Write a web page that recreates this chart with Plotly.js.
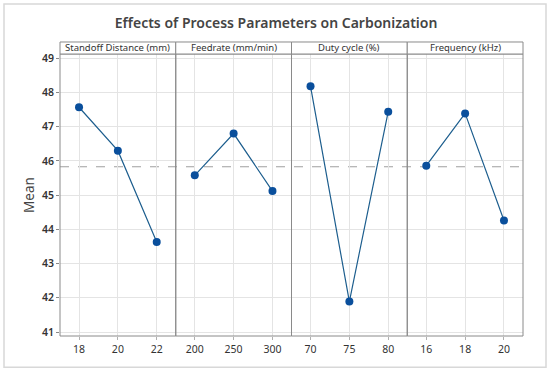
<!DOCTYPE html>
<html>
<head>
<meta charset="utf-8">
<script src="https://cdn.plot.ly/plotly-3.0.1.min.js"></script>
<style>html,body{margin:0;padding:0;background:#fff;}#chart{width:550px;height:371px;}</style>
</head>
<body>
<div id="chart"></div>
<script>
// ---- data ----
const factorNames = ["Standoff Distance (mm)", "Feedrate (mm/min)", "Duty cycle (%)", "Frequency (kHz)"];
const standoffLevels = ["18", "20", "22"];
const standoffMeans = [47.57, 46.30, 43.63];
const feedrateLevels = ["200", "250", "300"];
const feedrateMeans = [45.58, 46.80, 45.12];
const dutyLevels = ["70", "75", "80"];
const dutyMeans = [48.18, 41.89, 47.44];
const freqLevels = ["16", "18", "20"];
const freqMeans = [45.86, 47.39, 44.26];
const grandMean = 45.83;
const yTicks = [41, 42, 43, 44, 45, 46, 47, 48, 49];

const levelSets = [standoffLevels, feedrateLevels, dutyLevels, freqLevels];
const meanSets = [standoffMeans, feedrateMeans, dutyMeans, freqMeans];

const FONT = "Noto Sans, Open Sans, sans-serif";
const frameColor = "#8a8a8a";
const gridColor = "#e4e4e4";

const traces = [];
const layout = {
  width: 550, height: 371,
  margin: {l: 60, r: 27, t: 54, b: 35.3},
  paper_bgcolor: "#fff", plot_bgcolor: "#fff",
  showlegend: false,
  font: {family: FONT, color: "#333"},
  title: {text: "Effects of Process Parameters on Carbonization",
          font: {family: FONT, size: 14, color: "#444", weight: 600},
          x: 0.502, xref: "container", xanchor: "center", y: 0.95, yref: "container", yanchor: "top"},
  shapes: [], annotations: []
};

const stripH = 12 / 281.7;

for (let i = 0; i < 4; i++) {
  const xa = i === 0 ? "x" : "x" + (i + 1);
  const ya = i === 0 ? "y" : "y" + (i + 1);
  traces.push({
    type: "scatter", mode: "lines+markers",
    x: levelSets[i], y: meanSets[i],
    xaxis: xa, yaxis: ya,
    line: {color: "#1d5e8e", width: 1.2},
    marker: {color: "#0a4f9c", size: 8},
    hoverinfo: "x+y"
  });
  const axName = i === 0 ? "xaxis" : "xaxis" + (i + 1);
  const yName = i === 0 ? "yaxis" : "yaxis" + (i + 1);
  layout[axName] = {
    domain: [i * 0.25, (i + 1) * 0.25], anchor: ya,
    type: "category", range: [-0.49, 2.49],
    showgrid: true, gridcolor: gridColor, gridwidth: 1,
    showline: false, zeroline: false,
    ticks: "outside", ticklen: 3, tickcolor: "#b0b0b0",
    tickfont: {family: FONT, size: 10.5, color: "#333"},
    fixedrange: true
  };
  layout[yName] = {
    domain: [0, 1], anchor: xa,
    range: [40.883, 49.126],
    tickvals: yTicks,
    showgrid: true, gridcolor: gridColor, gridwidth: 1,
    zeroline: false, showline: false,
    showticklabels: i === 0,
    ticks: i === 0 ? "outside" : "", ticklen: 3, tickcolor: "#888",
    tickfont: {family: FONT, size: 10.5, color: "#333", weight: 600},
    fixedrange: true
  };
  if (i === 0) {
    layout[yName].title = {text: "Mean", font: {family: FONT, size: 13.5, color: "#444"}, standoff: 4};
  }
  // panel frame
  layout.shapes.push({type: "rect", xref: "paper", yref: "paper",
    x0: i * 0.25, x1: (i + 1) * 0.25, y0: 0, y1: 1,
    line: {color: frameColor, width: 1}, fillcolor: "rgba(0,0,0,0)", layer: "above"});
  // strip
  layout.shapes.push({type: "rect", xref: "paper", yref: "paper",
    x0: i * 0.25, x1: (i + 1) * 0.25, y0: 1, y1: 1 + stripH,
    line: {color: frameColor, width: 1}, fillcolor: "#fff", layer: "above"});
  layout.annotations.push({xref: "paper", yref: "paper",
    x: i * 0.25 + 0.125, y: 1 + stripH / 2, xanchor: "center", yanchor: "middle",
    text: factorNames[i], showarrow: false,
    font: {family: FONT, size: 9.5, color: "#333"}});
}

// grand mean reference line
layout.shapes.push({type: "line", xref: "paper", yref: "y",
  x0: 0, x1: 1, y0: grandMean, y1: grandMean,
  line: {color: "#a0a0a0", width: 1.2, dash: "dash"}, layer: "below"});

// outer border of picture
layout.shapes.push({type: "rect", xref: "paper", yref: "paper",
  x0: (4 - 60) / 463, x1: (546 - 60) / 463, y0: -(31.3 / 281.7), y1: 1 + 50 / 281.7,
  line: {color: "#d8d8d8", width: 1.5}, fillcolor: "rgba(0,0,0,0)", layer: "below"});

Plotly.newPlot("chart", traces, layout, {displayModeBar: false, staticPlot: true});
</script>
</body>
</html>
